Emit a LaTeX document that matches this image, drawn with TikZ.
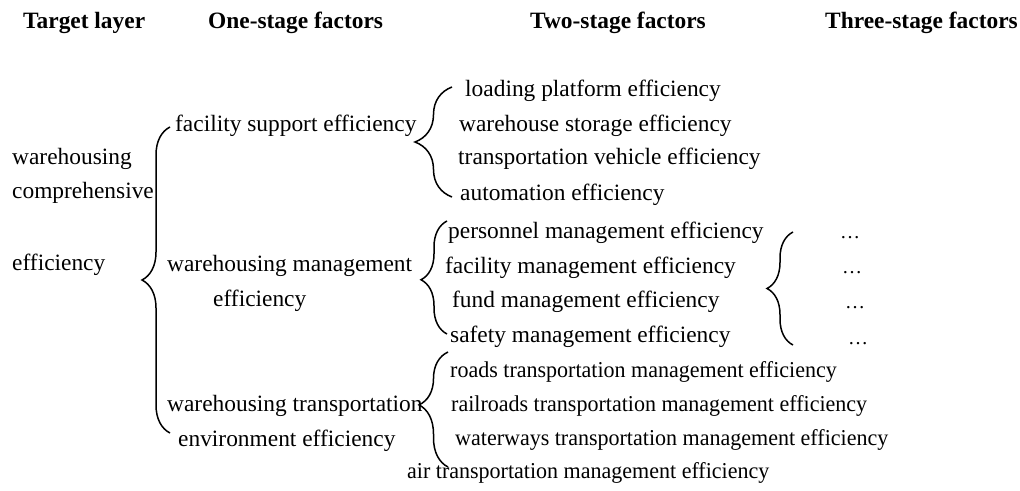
\documentclass[tikz,border=0pt]{standalone}
\usepackage{fontspec}
\setmainfont{Liberation Serif}
% slightly narrower face for the long transportation lines
\newfontfamily\narrowserif[FakeStretch=0.97]{Liberation Serif}
\usetikzlibrary{decorations.pathreplacing}

\begin{document}
\begin{tikzpicture}[x=1pt, y=-1pt,
  every node/.style={inner sep=0pt, anchor=base west, font=\fontsize{23.4}{28}\selectfont},
  head/.style={font=\fontsize{23.4}{28}\selectfont\bfseries},
  narrow/.style={font=\narrowserif\fontsize{22.7}{27}\selectfont},
  dots/.style={font=\fontsize{20}{24}\selectfont},
  % brace: amplitude, aspect (drawn bottom to top so the cusp points left)
  grp/.style 2 args={decorate, line width=1.5pt,
    decoration={brace, amplitude=#1, aspect=#2}}]

\useasboundingbox (0,0) rectangle (1020,490);

% column headings
\node[head] (h1) at (23,28)  {Target layer};
\node[head] (h2) at (208,28) {One-stage factors};
\node[head] (h3) at (530,28) {Two-stage factors};
\node[head] (h4) at (825,28) {Three-stage factors};

% target layer
\node (t1) at (12,164) {warehousing};
\node (t2) at (12,198) {comprehensive};
\node (t3) at (12,270) {efficiency};

% one-stage factors
\node (o1)  at (175,131) {facility support efficiency};
\node (o2a) at (167,271) {warehousing management};
\node (o2b) at (213,306) {efficiency};
\node (o3a) at (167,411) {warehousing transportation};
\node (o3b) at (178,446) {environment efficiency};

% two-stage factors
\node (a1) at (465,96)  {loading platform efficiency};
\node (a2) at (459,131) {warehouse storage efficiency};
\node (a3) at (458,164) {transportation vehicle efficiency};
\node (a4) at (460,200) {automation efficiency};

\node (m1) at (448,238) {personnel management efficiency};
\node (m2) at (445,273) {facility management efficiency};
\node (m3) at (452,307) {fund management efficiency};
\node (m4) at (450,342) {safety management efficiency};

\node[narrow] (r1) at (450,377) {roads transportation management efficiency};
\node[narrow] (r2) at (451,411) {railroads transportation management efficiency};
\node[narrow] (r3) at (455,445) {waterways transportation management efficiency};
\node[narrow] (r4) at (407,478) {air transportation management efficiency};

% three-stage factors
\node[dots] (d1) at (840,238) {…};
\node[dots] (d2) at (842,273) {…};
\node[dots] (d3) at (845,308) {…};
\node[dots] (d4) at (848,344) {…};

% brace end points
\coordinate (b1t) at (170,127); \coordinate (b1b) at (170,433);
\coordinate (b2t) at (452,87);  \coordinate (b2b) at (452,197);
\coordinate (b3t) at (447,221); \coordinate (b3b) at (447,334);
\coordinate (b4t) at (793,232); \coordinate (b4b) at (793,345);
\coordinate (b5t) at (448,352); \coordinate (b5b) at (448,467);

% braces
\draw[grp={28}{0.5}]  (b1b) -- (b1t);
\draw[grp={37}{0.5}]  (b2b) -- (b2t);
\draw[grp={26}{0.48}] (b3b) -- (b3t);
\draw[grp={26}{0.5}]  (b4b) -- (b4t);
\draw[grp={29}{0.54}] (b5b) -- (b5t);

\end{tikzpicture}
\end{document}
